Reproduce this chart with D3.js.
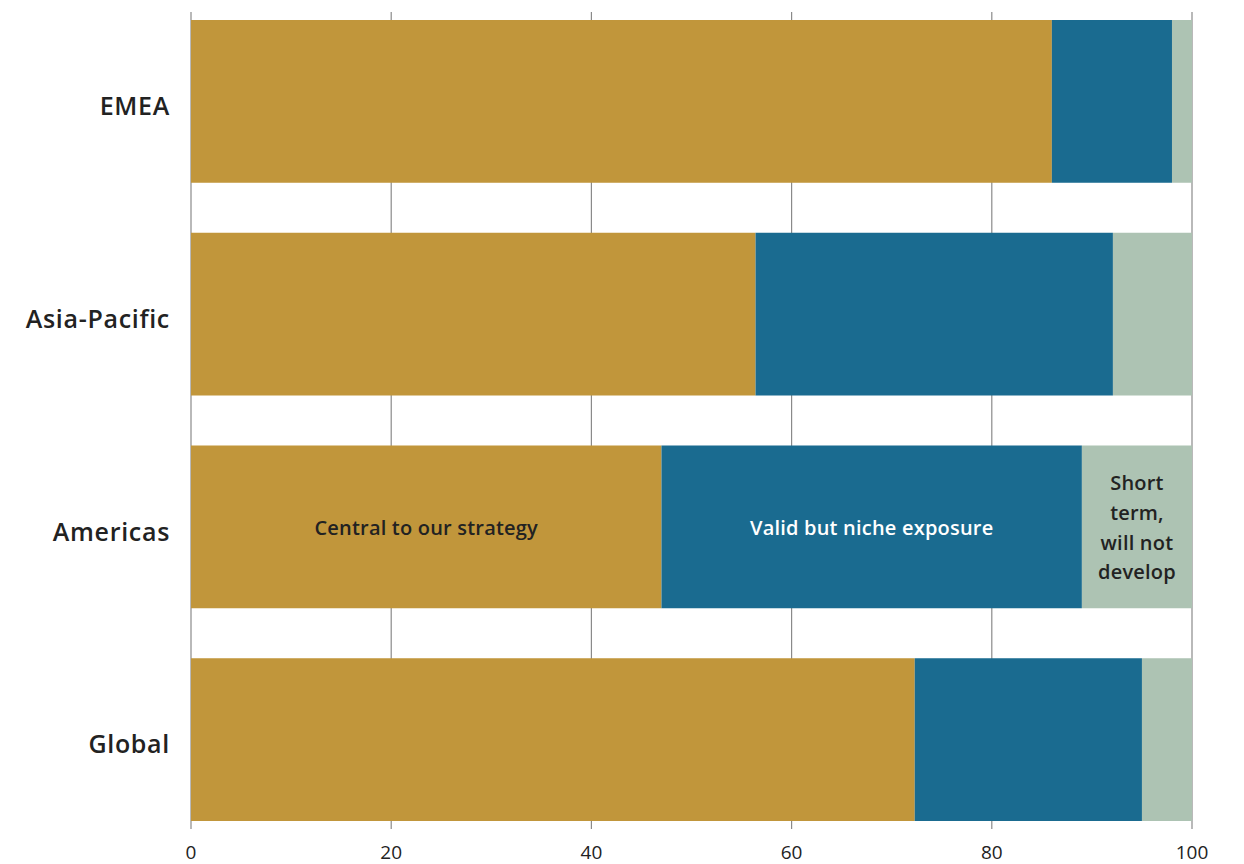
<!DOCTYPE html>
<html>
<head>
<meta charset="utf-8">
<script src="https://cdn.jsdelivr.net/npm/d3@7"></script>
<style>
  html, body { margin: 0; padding: 0; background: #fff; }
  svg { display: block; font-family: "Open Sans", Lato, "Noto Sans", sans-serif; }
</style>
</head>
<body>
<svg id="chart" width="1244" height="864"></svg>
<script>
// Regions and the share (%) of each response
const regions = ["EMEA", "Asia-Pacific", "Americas", "Global"];
const central = [86, 56.4, 47, 72.3];
const niche = [12, 35.7, 42, 22.7];
const shortTerm = [2, 7.9, 11, 5];
const seriesNames = ["Central to our strategy", "Valid but niche exposure", "Short term, will not develop"];
const xTicks = [0, 20, 40, 60, 80, 100];

const colors = ["#c1963b", "#1a6b90", "#adc3b3"];
const labelColors = ["#222", "#fff", "#222"];

const svg = d3.select("#chart");

const x = d3.scaleLinear().domain([0, 100]).range([191, 1192]);
const y = d3.scaleBand().domain(regions).range([20, 821]).paddingInner(0.235).paddingOuter(0);

// Vertical gridlines behind the bars
svg.append("g")
  .selectAll("line")
  .data(xTicks)
  .join("line")
  .attr("x1", d => x(d)).attr("x2", d => x(d))
  .attr("y1", 12).attr("y2", 829)
  .attr("stroke", "#8a8a8a").attr("stroke-width", 1.2);

// Stack the three series
const rows = regions.map((r, i) => ({ region: r, s0: central[i], s1: niche[i], s2: shortTerm[i] }));
const stack = d3.stack().keys(["s0", "s1", "s2"]);
const layers = stack(rows);

svg.append("g")
  .selectAll("g")
  .data(layers)
  .join("g")
  .attr("fill", (d, i) => colors[i])
  .selectAll("rect")
  .data(d => d)
  .join("rect")
  .attr("x", d => x(d[0]))
  .attr("width", d => x(d[1]) - x(d[0]))
  .attr("y", d => y(d.data.region))
  .attr("height", y.bandwidth());

// Category labels
svg.append("g")
  .selectAll("text")
  .data(regions)
  .join("text")
  .attr("x", 170)
  .attr("y", d => y(d) + y.bandwidth() / 2 + 5)
  .attr("dy", "0.35em")
  .attr("text-anchor", "end")
  .attr("font-size", 25)
  .attr("font-weight", 600)
  .attr("letter-spacing", 0.7)
  .attr("fill", "#222")
  .text(d => d);

// X axis tick labels
svg.append("g")
  .selectAll("text")
  .data(xTicks)
  .join("text")
  .attr("x", d => x(d))
  .attr("y", 852)
  .attr("dy", "0.35em")
  .attr("text-anchor", "middle")
  .attr("font-size", 19)
  .attr("fill", "#222")
  .text(d => d);

// Series labels inside the Americas bar
const labelRow = layers.map(l => l.find(d => d.data.region === "Americas"));
const labelLines = [["Central to our strategy"], ["Valid but niche exposure"], ["Short", "term,", "will not", "develop"]];
const yMid = y("Americas") + y.bandwidth() / 2 + 1;
const lineH = 29.7;
labelRow.forEach((d, i) => {
  const cx = (x(d[0]) + x(d[1])) / 2;
  const lines = labelLines[i];
  const t = svg.append("text")
    .attr("text-anchor", "middle")
    .attr("font-size", 20)
    .attr("font-weight", 600)
    .attr("letter-spacing", 0.2)
    .attr("fill", labelColors[i]);
  lines.forEach((ln, k) => {
    t.append("tspan")
      .attr("x", cx)
      .attr("y", yMid + (k - (lines.length - 1) / 2) * lineH)
      .attr("dy", "0.35em")
      .text(ln);
  });
});
</script>
</body>
</html>
